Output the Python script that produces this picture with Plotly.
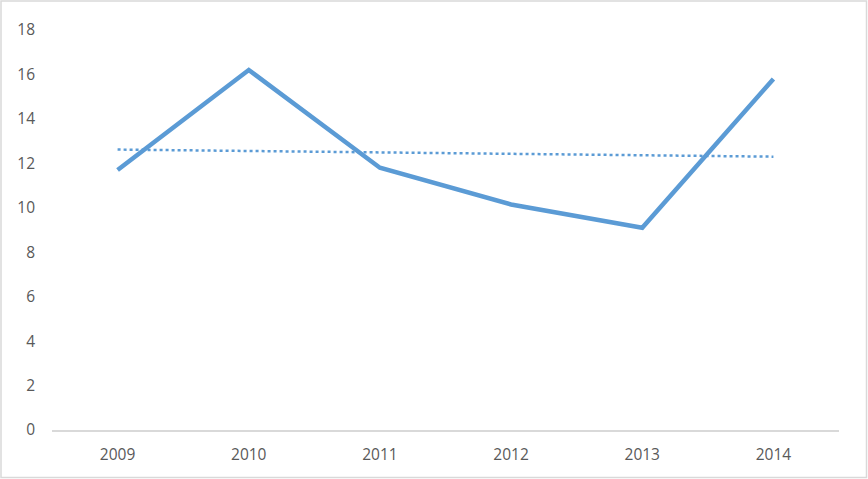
import plotly.graph_objects as go

years = ["2009", "2010", "2011", "2012", "2013", "2014"]
values = [11.7, 16.2, 11.8, 10.15, 9.1, 15.8]

# linear trendline end points
trend_years = ["2009", "2014"]
trend_values = [12.62, 12.3]

W, H = 868, 479
L, R, T, B = 52, 29, 30, 49

fig = go.Figure()

fig.add_trace(go.Scatter(
    x=trend_years, y=trend_values, mode="lines",
    line=dict(color="#5B9BD5", width=2.5, dash="dot"),
    showlegend=False
))
fig.add_trace(go.Scatter(
    x=years, y=values, mode="lines",
    line=dict(color="#5B9BD5", width=4.5),
    showlegend=False
))

pw = W - L - R
ph = H - T - B
# outer frame around the whole chart
fig.add_shape(type="rect", xref="paper", yref="paper",
              x0=-(L - 1) / pw, x1=1 + (R - 1.5) / pw,
              y0=-(B - 1.5) / ph, y1=1 + (T - 1) / ph,
              line=dict(color="#D9D9D9", width=1.5))

fig.update_layout(
    width=W, height=H,
    margin=dict(l=L, r=R, t=T, b=B),
    paper_bgcolor="white", plot_bgcolor="white",
    font=dict(family="Open Sans", size=15.5, color="#595959"),
)
fig.update_xaxes(
    type="category", categoryorder="array", categoryarray=years,
    range=[-0.5, 5.5], showgrid=False, zeroline=False,
    showline=True, linecolor="#D9D9D9", linewidth=1.5,
    ticks="", ticklabelstandoff=10,
)
fig.update_yaxes(
    range=[0, 18], dtick=2, showgrid=False, zeroline=False,
    showline=False, ticks="", ticklabelstandoff=16,
)

fig.write_html("out.html", config={"displayModeBar": False},
               post_script="document.body.style.margin='0';")
